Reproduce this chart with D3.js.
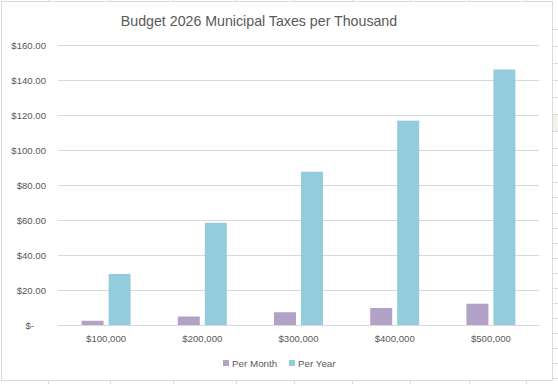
<!DOCTYPE html>
<html>
<head>
<meta charset="utf-8">
<script src="https://cdn.jsdelivr.net/npm/d3@7"></script>
<style>
  body { margin: 0; background: #fff; }
  svg { display: block; font-family: "Liberation Sans", Arial, sans-serif; }
  .tick text { fill: #595959; font-size: 9.6px; }
</style>
</head>
<body>
<svg width="558" height="384"></svg>
<script>
var categories = ["$100,000", "$200,000", "$300,000", "$400,000", "$500,000"];
var series = ["Per Month", "Per Year"];
var perMonth = [2.43, 4.87, 7.30, 9.73, 12.17];
var perYear = [29.2, 58.4, 87.6, 116.8, 146.0];
var yTicks = [0, 20, 40, 60, 80, 100, 120, 140, 160];
var colors = ["#b3a2c7", "#93cddd"];

var svg = d3.select("svg"),
    width = +svg.attr("width"),
    height = +svg.attr("height"),
    margin = { top: 45, bottom: 59, right: 19, left: 58 };

// spreadsheet cells peeking out around the chart
var sheetCols = [48, 110, 173, 236, 294, 352, 410, 469, 526];
var sheetRows = [29, 46, 63, 80, 97, 114, 131, 148, 165, 182, 197, 213, 228, 243, 258, 273, 288, 303, 318, 333, 348, 363, 378];
svg.append("rect").attr("x", 553).attr("y", 114).attr("width", 5).attr("height", 17).attr("fill", "#eff5ea");
svg.selectAll(".col").data(sheetCols).enter().append("line")
    .attr("x1", function (d) { return d + 0.5; }).attr("x2", function (d) { return d + 0.5; })
    .attr("y1", 0).attr("y2", height)
    .attr("stroke", "#dadada");
svg.selectAll(".row").data(sheetRows).enter().append("line")
    .attr("x1", 540).attr("x2", width)
    .attr("y1", function (d) { return d + 0.5; }).attr("y2", function (d) { return d + 0.5; })
    .attr("stroke", "#dadada");

// chart area
svg.append("rect")
    .attr("x", 1.5).attr("y", 1.5)
    .attr("width", 551).attr("height", 379)
    .attr("fill", "#fff")
    .attr("stroke", "#d9d9d9");

svg.append("text")
    .attr("x", 259).attr("y", 26)
    .attr("text-anchor", "middle")
    .attr("fill", "#595959")
    .style("font-size", "14.2px")
    .text("Budget 2026 Municipal Taxes per Thousand");

var y = d3.scaleLinear().domain([0, 160]).range([height - margin.bottom, margin.top]);
var x0 = d3.scaleBand().domain(categories).range([margin.left, width - margin.right]);
var x1 = d3.scaleBand().domain(series)
    .range([x0.bandwidth() / 2 - 24.5, x0.bandwidth() / 2 + 24.5])
    .paddingInner(0.185);

// gridlines + y labels
var yAxis = svg.append("g")
    .attr("transform", "translate(" + margin.left + ",0)")
    .call(d3.axisLeft(y).tickValues(yTicks)
      .tickSize(-(width - margin.left - margin.right))
      .tickPadding(12)
      .tickFormat(function (d) { return d === 0 ? "$-" : "$" + d3.format(".2f")(d); }));
yAxis.select(".domain").remove();
yAxis.selectAll(".tick line").attr("stroke", "#d9d9d9");
yAxis.selectAll(".tick text").filter(function (d) { return d === 0; }).attr("dx", -12);

var table = categories.map(function (c, i) { return { cat: c, values: [perMonth[i], perYear[i]] }; });

var groups = svg.selectAll(".grp").data(table).enter().append("g")
    .attr("transform", function (d) { return "translate(" + x0(d.cat) + ",0)"; });
groups.selectAll("rect").data(function (d) {
      return d.values.map(function (v, j) { return { s: series[j], v: v, c: colors[j] }; });
    })
    .enter().append("rect")
    .attr("x", function (d) { return x1(d.s); })
    .attr("width", x1.bandwidth())
    .attr("y", function (d) { return y(d.v); })
    .attr("height", function (d) { return y(0) - y(d.v); })
    .attr("fill", function (d) { return d.c; });

// x axis
var xAxis = svg.append("g")
    .attr("transform", "translate(0," + y(0) + ")")
    .call(d3.axisBottom(x0).tickSize(0).tickPadding(10));
xAxis.select(".domain").attr("stroke", "#d9d9d9");

// legend
var legend = svg.append("g").attr("transform", "translate(223,360)");
var lx = [0, 66];
series.forEach(function (s, i) {
  var g = legend.append("g").attr("transform", "translate(" + lx[i] + ",0)");
  g.append("rect").attr("width", 6).attr("height", 6).attr("fill", colors[i]);
  g.append("text").attr("x", 9).attr("y", 6.5)
    .attr("fill", "#595959").style("font-size", "9.8px").text(s);
});
</script>
</body>
</html>
